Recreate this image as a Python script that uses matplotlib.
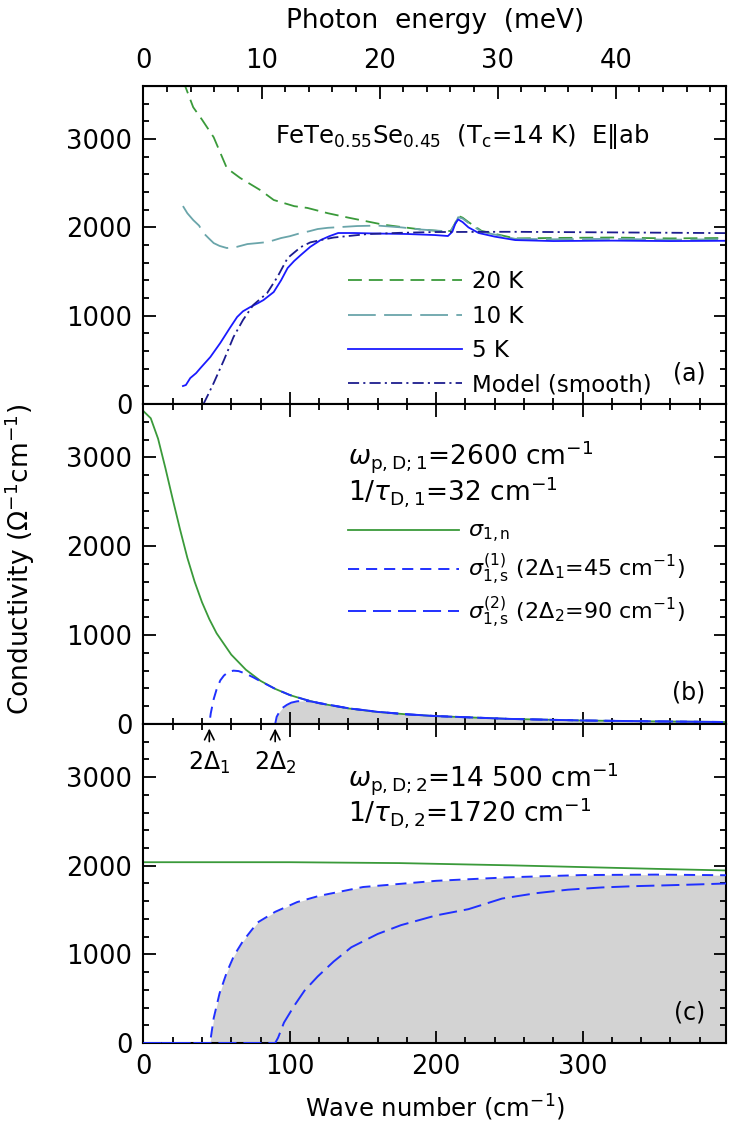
import numpy as np
import matplotlib
matplotlib.use('Agg')
import matplotlib.pyplot as plt
from matplotlib.ticker import MultipleLocator, FixedLocator

plt.rcParams['font.family'] = 'DejaVu Sans'
plt.rcParams['mathtext.fontset'] = 'dejavusans'
plt.rcParams['font.size'] = 17
plt.rcParams['lines.scale_dashes'] = False

# ---- panel (a): measured spectra and model ----
x_20k = [25, 28.5, 34, 40, 48, 57, 66, 80, 89, 103, 112, 126, 140, 164, 190, 205, 210, 213, 215,
         218, 222, 231, 254, 280, 320, 360, 398]
y_20k = [3900, 3600, 3360, 3220, 3020, 2670, 2560, 2420, 2310, 2240, 2220, 2160, 2110, 2030, 1975,
         1955, 1960, 2050, 2130, 2110, 2060, 1960, 1875, 1880, 1885, 1875, 1880]

x_10k = [27, 30, 34, 38, 41, 45, 48, 52, 57, 64, 71, 78, 85, 94, 100, 107.5, 113, 119, 126, 135,
         146, 160, 176, 190, 205, 210, 213, 215, 218, 222, 231, 254, 280, 320, 360, 398]
y_10k = [2241, 2160, 2083, 2020, 1936, 1870, 1822, 1790, 1766, 1780, 1811, 1822, 1834, 1879, 1900,
         1936, 1955, 1981, 1995, 2004, 2015, 2020, 2000, 1975, 1958, 1965, 2040, 2115, 2100, 2050,
         1950, 1870, 1865, 1870, 1860, 1865]

x_5k = [27, 29, 32, 36, 39, 45.7, 52.5, 59, 64, 68, 73, 78, 82, 89, 94, 98.5, 103, 107.5, 114, 121,
        127, 133, 144, 160, 180, 199, 208, 211, 213, 215, 218, 222, 229, 240, 254, 280, 320, 360, 398]
y_5k = [204, 215, 294, 350, 408, 532, 691, 860, 985, 1050, 1098, 1140, 1177, 1268, 1400, 1540, 1620,
        1687, 1780, 1856, 1900, 1936, 1936, 1930, 1925, 1913, 1902, 1950, 2040, 2090, 2060, 2000,
        1936, 1895, 1856, 1845, 1850, 1845, 1848]

x_model = [41, 44, 48, 55, 61.5, 68, 75, 84.5, 91.5, 98.5, 107.5, 114, 121, 130, 140, 153, 175,
           199, 250, 300, 350, 398]
y_model = [0, 100, 238, 498, 758, 951, 1121, 1256, 1438, 1653, 1777, 1830, 1856, 1885, 1902, 1924,
           1938, 1947, 1950, 1945, 1940, 1935]

# ---- panel (b): narrow Drude band ----
x_n1 = [0, 5, 10, 15, 20, 25, 30, 35, 40, 45, 50, 60, 70, 80, 90, 100, 110, 120, 140, 160, 180,
        200, 250, 300, 350, 398]
y_n1 = [3520, 3440, 3210, 2880, 2530, 2190, 1870, 1600, 1370, 1180, 1020, 780, 610, 485, 395, 325,
        275, 233, 175, 135, 108, 88, 57, 39, 29, 22]

x_s1b = [0, 45, 46, 48, 50, 52.5, 55, 58, 61.5, 65, 70, 75, 80, 90, 100, 110, 120, 140, 160, 180,
         200, 250, 300, 350, 398]
y_s1b = [0, 0, 120, 280, 390, 490, 545, 585, 600, 595, 565, 525, 480, 395, 326, 276, 234, 176, 136,
         108, 88, 57, 39, 29, 22]

x_s2b = [0, 90, 91, 93, 95, 98, 101, 105, 110, 115, 120, 140, 160, 180, 200, 250, 300, 350, 398]
y_s2b = [0, 0, 80, 140, 181, 215, 240, 255, 260, 252, 236, 177, 137, 109, 89, 57, 39, 29, 22]

# ---- panel (c): broad Drude band ----
x_n2 = [0, 100, 175, 250, 300, 350, 398]
y_n2 = [2040, 2040, 2030, 2005, 1985, 1965, 1947]

x_s1c = [0, 45.5, 48, 52, 57, 62, 68, 78, 90, 105, 120, 150, 200, 250, 300, 350, 398]
y_s1c = [0, 0, 280, 560, 800, 990, 1150, 1360, 1480, 1590, 1660, 1760, 1830, 1870, 1895, 1900, 1893]

x_s2c = [0, 90, 92, 96, 103, 110, 119, 130, 142, 160, 176, 200, 222, 245, 268, 290, 313, 336, 359,
         380, 398]
y_s2c = [0, 0, 60, 230, 420, 590, 750, 920, 1080, 1230, 1330, 1440, 1510, 1630, 1690, 1730, 1755,
         1770, 1780, 1790, 1800]

mev_ticks = [0, 10, 20, 30, 40]

green = '#3a9a3a'
teal = '#6aa5aa'
blue = '#1a1aff'
navy = '#1c1c8e'
sblue = '#2030ff'
grey = '#d3d3d3'

fig = plt.figure(figsize=(7.47, 11.41), dpi=100)
left, width = 0.192, 0.780
ax_a = fig.add_axes([left, 0.6459, width, 0.2787])
ax_b = fig.add_axes([left, 0.3655, width, 0.2804])
ax_c = fig.add_axes([left, 0.0859, width, 0.2796])


def style_axis(ax, top=True):
    ax.set_xlim(0, 398)
    ax.set_ylim(0, 3600)
    ax.xaxis.set_major_locator(FixedLocator([0, 100, 200, 300]))
    ax.xaxis.set_minor_locator(MultipleLocator(20))
    ax.yaxis.set_major_locator(MultipleLocator(1000))
    ax.yaxis.set_minor_locator(MultipleLocator(200))
    ax.tick_params(which='both', direction='in', top=top, right=True, width=1.3, labelsize=18.5)
    ax.tick_params(which='major', length=9)
    ax.tick_params(which='minor', length=4.5)
    ax.tick_params(axis='y', which='major', pad=8)
    ax.tick_params(axis='x', which='major', pad=8)
    for s in ax.spines.values():
        s.set_linewidth(1.5)


for ax in (ax_a, ax_b, ax_c):
    style_axis(ax, top=(ax is not ax_a))
ax_a.tick_params(labelbottom=False)
ax_b.tick_params(labelbottom=False)

# panel (a)
ax_a.plot(x_20k, y_20k, color=green, lw=1.3, dashes=(10, 5), label='20 K')
ax_a.plot(x_10k, y_10k, color=teal, lw=1.3, dashes=(20, 6), label='10 K')
ax_a.plot(x_5k, y_5k, color=blue, lw=1.3, label='5 K')
ax_a.plot(x_model, y_model, color=navy, lw=1.3, dashes=(8, 3, 1.5, 3), label='Model (smooth)')
ax_a.legend(loc='upper left', bbox_to_anchor=(0.335, 0.45), frameon=False, handlelength=5.0,
            handletextpad=0.4, labelspacing=0.5, borderaxespad=0, fontsize=16.5)
ax_a.text(0.226, 0.84, r'FeTe$_{0.55}$Se$_{0.45}$  (T$_\mathrm{c}$=14 K)  E‖ab',
          transform=ax_a.transAxes, va='center', ha='left', fontsize=17.5)
ax_a.text(0.965, 0.097, '(a)', transform=ax_a.transAxes, va='center', ha='right', fontsize=17)

sec = ax_a.secondary_xaxis('top', functions=(lambda w: w / 8.0655, lambda e: e * 8.0655))
sec.xaxis.set_major_locator(FixedLocator(mev_ticks))
sec.xaxis.set_minor_locator(MultipleLocator(2))
sec.tick_params(which='both', direction='in', width=1.3, labelsize=18.5)
sec.tick_params(which='major', length=9, pad=9)
sec.tick_params(which='minor', length=4.5)
sec.set_xlabel('Photon  energy  (meV)', labelpad=14, fontsize=19)

# panel (b)
ax_b.fill_between(x_s2b, y_s2b, 0, color=grey, lw=0, zorder=1)
ax_b.plot(x_n1, y_n1, color=green, lw=1.3, label=r'$\sigma_{1,\mathrm{n}}$', zorder=2)
ax_b.plot(x_s1b, y_s1b, color=sblue, lw=1.4, dashes=(8, 5),
          label=r'$\sigma_{1,\mathrm{s}}^{(1)}$ (2$\Delta_1$=45 cm$^{-1}$)', zorder=3)
ax_b.plot(x_s2b, y_s2b, color=sblue, lw=1.4, dashes=(13, 5),
          label=r'$\sigma_{1,\mathrm{s}}^{(2)}$ (2$\Delta_2$=90 cm$^{-1}$)', zorder=3)
ax_b.legend(loc='upper left', bbox_to_anchor=(0.335, 0.66), frameon=False, handlelength=5.0,
            handletextpad=0.4, labelspacing=0.3, borderaxespad=0, fontsize=16)
ax_b.text(0.351, 0.835, r'$\omega_{\mathrm{p,D;1}}$=2600 cm$^{-1}$', transform=ax_b.transAxes,
          va='center', ha='left', fontsize=19)
ax_b.text(0.351, 0.728, r'1/$\tau_{\mathrm{D,1}}$=32 cm$^{-1}$', transform=ax_b.transAxes,
          va='center', ha='left', fontsize=19)
ax_b.text(0.965, 0.097, '(b)', transform=ax_b.transAxes, va='center', ha='right', fontsize=17)

# panel (c)
ax_c.fill_between(x_s1c, y_s1c, 0, color=grey, lw=0, zorder=1)
ax_c.plot(x_n2, y_n2, color=green, lw=1.3, zorder=2)
ax_c.plot(x_s1c, y_s1c, color=sblue, lw=1.4, dashes=(8, 5), zorder=3)
ax_c.plot(x_s2c, y_s2c, color=sblue, lw=1.4, dashes=(13, 5), zorder=3)
ax_c.text(0.351, 0.828, r'$\omega_{\mathrm{p,D;2}}$=14 500 cm$^{-1}$', transform=ax_c.transAxes,
          va='center', ha='left', fontsize=19)
ax_c.text(0.351, 0.722, r'1/$\tau_{\mathrm{D,2}}$=1720 cm$^{-1}$', transform=ax_c.transAxes,
          va='center', ha='left', fontsize=19)
ax_c.text(0.965, 0.094, '(c)', transform=ax_c.transAxes, va='center', ha='right', fontsize=17)

# gap markers
for gap, lab in [(45, r'2$\Delta_1$'), (90, r'2$\Delta_2$')]:
    ax_c.annotate('', xy=(gap, 3580), xytext=(gap, 3370),
                  arrowprops=dict(arrowstyle='->', lw=1.2, color='black'))
    ax_c.text(gap, 3160, lab, ha='center', va='center', fontsize=17)

ax_c.set_xlabel('Wave number (cm$^{-1}$)', labelpad=9, fontsize=17.5)
fig.text(0.027, 0.51, r'Conductivity ($\Omega^{-1}$cm$^{-1}$)', rotation=90,
         va='center', ha='center', fontsize=19)

fig.savefig('out.png', dpi=100)
